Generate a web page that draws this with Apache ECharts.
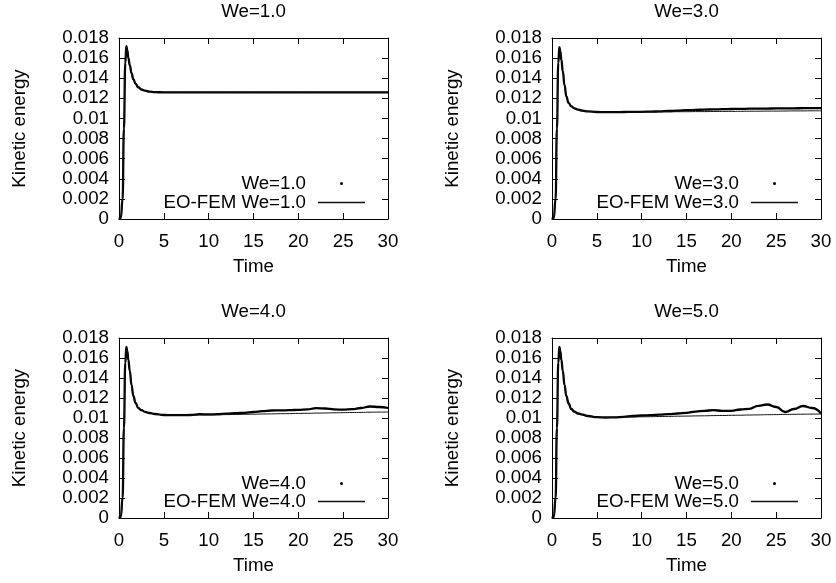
<!DOCTYPE html>
<html><head><meta charset="utf-8">
<script src="https://cdn.jsdelivr.net/npm/echarts@6/dist/echarts.min.js"></script>
<style>html,body{margin:0;padding:0;background:#fff}#c{width:836px;height:583px}</style>
</head><body><div id="c"></div>
<script>
// ---- data ----
const times = [0, 0.2, 0.4, 0.55, 0.7, 0.82, 0.92, 1.05, 1.2, 1.4, 1.6, 1.85, 2.15, 2.5, 2.9, 3.4, 4.0,
  5, 6, 7, 8, 9, 10, 11, 12, 13, 14, 15, 16, 17, 18, 19, 20, 21, 22, 23, 24, 25, 26, 27, 28, 29, 30];

const panelTitles = ['We=1.0', 'We=3.0', 'We=4.0', 'We=5.0'];
const dotNames = ['We=1.0', 'We=3.0', 'We=4.0', 'We=5.0'];
const femNames = ['EO-FEM We=1.0', 'EO-FEM We=3.0', 'EO-FEM We=4.0', 'EO-FEM We=5.0'];

const dotsWe1 = [0, 0.0001, 0.002, 0.009, 0.0155, 0.0172, 0.0168, 0.0160, 0.0153, 0.0145, 0.0139, 0.01345, 0.0131, 0.01288, 0.01276, 0.01267, 0.01262,
  0.01259, 0.01259, 0.01259, 0.01259, 0.01259, 0.01259, 0.01259, 0.01259, 0.01259, 0.01259, 0.01259, 0.01259, 0.01259,
  0.01259, 0.01259, 0.01259, 0.01259, 0.01259, 0.01259, 0.01259, 0.01259, 0.01259, 0.01259, 0.01259, 0.01259, 0.01259];
const femWe1 = [0, 0.0001, 0.002, 0.009, 0.0155, 0.0172, 0.0168, 0.0160, 0.0153, 0.0145, 0.0139, 0.01345, 0.0131, 0.01288, 0.01276, 0.01267, 0.01262,
  0.0126, 0.0126, 0.0126, 0.0126, 0.0126, 0.0126, 0.0126, 0.0126, 0.0126, 0.0126, 0.0126, 0.0126, 0.0126,
  0.0126, 0.0126, 0.0126, 0.0126, 0.0126, 0.0126, 0.0126, 0.0126, 0.0126, 0.0126, 0.0126, 0.0126, 0.0126];

const dotsWe3 = [0, 0.0001, 0.002, 0.009, 0.0155, 0.0171, 0.0167, 0.0158, 0.0147, 0.0133, 0.0122, 0.01155, 0.0112, 0.011, 0.01088, 0.01077, 0.0107,
  0.01064, 0.01063, 0.01063, 0.01064, 0.01065, 0.01066, 0.01068, 0.0107, 0.01074, 0.01078, 0.01082, 0.01085, 0.01088,
  0.0109, 0.01092, 0.01094, 0.01095, 0.01097, 0.01098, 0.01098, 0.011, 0.011, 0.01101, 0.01102, 0.01102, 0.01103];
const femWe3 = [0, 0.0001, 0.002, 0.009, 0.0155, 0.0171, 0.0167, 0.0158, 0.0147, 0.0133, 0.0122, 0.01155, 0.0112, 0.011, 0.01088, 0.01077, 0.0107,
  0.01064, 0.01063, 0.01063, 0.01064, 0.01064, 0.01065, 0.01065, 0.01066, 0.01066, 0.01067, 0.01067, 0.01068, 0.01068,
  0.01069, 0.0107, 0.0107, 0.01071, 0.01072, 0.01072, 0.01073, 0.01073, 0.01074, 0.01075, 0.01075, 0.01076, 0.01076];

const dotsWe4 = [0, 0.0001, 0.002, 0.009, 0.0155, 0.0171, 0.0167, 0.0158, 0.0147, 0.0133, 0.0122, 0.0115, 0.011, 0.01078, 0.01062, 0.0105, 0.0104,
  0.0103, 0.01028, 0.01028, 0.0103, 0.01038, 0.01036, 0.01038, 0.01043, 0.01048, 0.01052, 0.0106, 0.01068, 0.01075,
  0.01076, 0.01078, 0.01082, 0.01087, 0.01098, 0.01095, 0.01086, 0.01083, 0.01088, 0.011, 0.01115, 0.0111, 0.011];
const femWe4 = [0, 0.0001, 0.002, 0.009, 0.0155, 0.0171, 0.0167, 0.0158, 0.0147, 0.0133, 0.0122, 0.0115, 0.011, 0.01078, 0.01062, 0.0105, 0.0104,
  0.0103, 0.01028, 0.01028, 0.01029, 0.0103, 0.01031, 0.01032, 0.01034, 0.01035, 0.01037, 0.01038, 0.0104, 0.01041,
  0.01043, 0.01044, 0.01046, 0.01047, 0.01049, 0.0105, 0.01052, 0.01053, 0.01055, 0.01056, 0.01058, 0.01059, 0.0106];

const dotsWe5 = [0, 0.0001, 0.002, 0.009, 0.0155, 0.0171, 0.0167, 0.0158, 0.0147, 0.0133, 0.0122, 0.01145, 0.0109, 0.01063, 0.01045, 0.01033, 0.0102,
  0.01008, 0.01005, 0.01007, 0.01012, 0.0102, 0.01025, 0.01028, 0.01033, 0.01038, 0.01045, 0.01052, 0.01064, 0.01072,
  0.01078, 0.01072, 0.01072, 0.01085, 0.01092, 0.01122, 0.01135, 0.0111, 0.0106, 0.0109, 0.0112, 0.011, 0.01045];
const femWe5 = [0, 0.0001, 0.002, 0.009, 0.0155, 0.0171, 0.0167, 0.0158, 0.0147, 0.0133, 0.0122, 0.01145, 0.0109, 0.01063, 0.01045, 0.01033, 0.0102,
  0.01008, 0.01005, 0.01007, 0.01009, 0.0101, 0.01012, 0.01013, 0.01015, 0.01016, 0.01018, 0.01019, 0.01021, 0.01022,
  0.01024, 0.01025, 0.01027, 0.01028, 0.0103, 0.01031, 0.01033, 0.01034, 0.01036, 0.01037, 0.01038, 0.01039, 0.0104];

const xTickLabels = ['0', '5', '10', '15', '20', '25', '30'];
const yTickLabels = ['0', '0.002', '0.004', '0.006', '0.008', '0.01', '0.012', '0.014', '0.016', '0.018'];
const xAxisTitle = 'Time';
const yAxisTitle = 'Kinetic energy';

// ---- layout / style ----
const dotSets = [dotsWe1, dotsWe3, dotsWe4, dotsWe5];
const femSets = [femWe1, femWe3, femWe4, femWe5];
const FONT = 'Liberation Sans, Arial, sans-serif';
const boxes = [
  {left: 119, top: 38, width: 269, height: 181},
  {left: 552, top: 38, width: 269, height: 181},
  {left: 119, top: 338, width: 269, height: 180},
  {left: 552, top: 338, width: 269, height: 180}
];
const titleTops = [2, 2, 302, 302];
const legendTops = [[174, 193], [174, 193], [474, 492], [474, 492]];
const X_STEP = 5, Y_STEP = 0.002;

const txt = {color: '#000', fontFamily: FONT, fontSize: 18.7};
const lineSt = {color: '#000', width: 1};
const tickSt = {show: true, inside: true, length: 6, lineStyle: {color: '#000', width: 1}};

const option = {
  animation: false,
  backgroundColor: '#fff',
  title: [], grid: [], xAxis: [], yAxis: [], series: [], legend: []
};

for (let i = 0; i < 4; i++) {
  const b = boxes[i];
  option.grid.push({left: b.left, top: b.top, width: b.width, height: b.height, containLabel: false});
  option.title.push({
    text: panelTitles[i], left: b.left + b.width / 2, top: titleTops[i], textAlign: 'center', padding: 0,
    textStyle: Object.assign({fontWeight: 'normal'}, txt)
  });
  const xBase = {gridIndex: i, type: 'value', min: 0, max: 30, interval: X_STEP,
    axisLine: {show: true, onZero: false, lineStyle: lineSt}, axisTick: tickSt, splitLine: {show: false}};
  option.xAxis.push(Object.assign({}, xBase, {
    position: 'bottom', name: xAxisTitle, nameLocation: 'middle', nameGap: 38, nameTextStyle: txt,
    axisLabel: Object.assign({margin: 13, formatter: v => xTickLabels[Math.round(v / X_STEP)]}, txt)
  }));
  option.xAxis.push(Object.assign({}, xBase, {position: 'top', axisLabel: {show: false}}));
  const yBase = {gridIndex: i, type: 'value', min: 0, max: 0.018, interval: Y_STEP,
    axisLine: {show: true, onZero: false, lineStyle: lineSt}, axisTick: tickSt, splitLine: {show: false}};
  option.yAxis.push(Object.assign({}, yBase, {
    position: 'left', name: yAxisTitle, nameLocation: 'middle', nameGap: 90, nameTextStyle: txt,
    axisLabel: Object.assign({margin: 10, formatter: v => yTickLabels[Math.round(v / Y_STEP)]}, txt)
  }));
  option.yAxis.push(Object.assign({}, yBase, {position: 'right', axisLabel: {show: false}}));

  option.series.push({
    name: dotNames[i], type: 'line', xAxisIndex: 2 * i, yAxisIndex: 2 * i,
    data: times.map((t, k) => [t, dotSets[i][k]]),
    showSymbol: false, symbol: 'none', smooth: 0.5, smoothMonotone: 'x',
    lineStyle: {color: '#000', width: 2.3}, itemStyle: {color: '#000'}, z: 2
  });
  option.series.push({
    name: femNames[i], type: 'line', xAxisIndex: 2 * i, yAxisIndex: 2 * i,
    data: times.map((t, k) => [t, femSets[i][k]]),
    showSymbol: false, symbol: 'none', smooth: 0.5, smoothMonotone: 'x',
    lineStyle: {color: '#111', width: 1}, itemStyle: {color: '#111'}, z: 3
  });

  const rightEdge = b.left + b.width;
  const lineRight = 836 - (rightEdge - 23);
  const dotRight = 836 - (rightEdge - 45);
  option.legend.push({
    data: [{name: dotNames[i], icon: 'circle'}], orient: 'vertical', align: 'right',
    right: dotRight, top: legendTops[i][0], padding: 0, itemWidth: 3, itemHeight: 3,
    textStyle: Object.assign({padding: [0, 29, 0, 0]}, txt), selectedMode: false
  });
  option.legend.push({
    data: [{name: femNames[i], icon: 'rect'}], orient: 'vertical', align: 'right',
    right: lineRight, top: legendTops[i][1], padding: 0, itemWidth: 47, itemHeight: 1.4,
    textStyle: Object.assign({padding: [0, 7, 0, 0]}, txt), selectedMode: false
  });
}

const chart = echarts.init(document.getElementById('c'), null, {renderer: 'canvas'});
chart.setOption(option);
</script>
</body></html>
